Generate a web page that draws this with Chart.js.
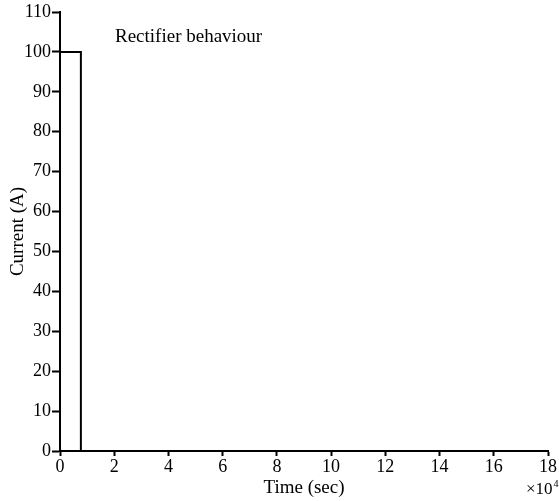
<!DOCTYPE html>
<html>
<head>
<meta charset="utf-8">
<script src="https://cdn.jsdelivr.net/npm/chart.js@4.4.1/dist/chart.umd.min.js"></script>
<style>
  html, body { margin: 0; padding: 0; background: #fff; }
  #wrap { width: 559px; height: 501px; position: relative; }
</style>
</head>
<body>
<div id="wrap"><canvas id="myChart"></canvas></div>
<script>
// time in units of 1e4 sec, current in A
const times = [0, 0.77, 0.77, 16.9]
const currents = [100, 100, 0, 0]
const xTicks = [0, 2, 4, 6, 8, 10, 12, 14, 16, 18]
const yTicks = [0, 10, 20, 30, 40, 50, 60, 70, 80, 90, 100, 110]

const serif = 'Liberation Serif'

const points = times.map((t, i) => ({ x: t, y: currents[i] }))

// plot label and the x10^4 exponent
const extraText = {
  id: 'extraText',
  afterDraw(chart) {
    const c = chart.ctx
    c.save()
    c.fillStyle = '#000'
    c.textBaseline = 'alphabetic'
    c.font = '19px "' + serif + '"'
    c.fillText('Rectifier behaviour', 115, 42)
    c.font = '17px "' + serif + '"'
    c.fillText('\u00d710', 526, 494)
    const w = c.measureText('\u00d710').width
    c.font = '10px "' + serif + '"'
    c.fillText('4', 526 + w + 1, 487)
    c.restore()
  }
}

const ctx = document.getElementById('myChart')

new Chart(ctx, {
  type: 'line',
  data: {
    datasets: [{
      data: points,
      borderColor: '#000',
      borderWidth: 2,
      pointRadius: 0,
      tension: 0,
      fill: false
    }]
  },
  options: {
    responsive: true,
    maintainAspectRatio: false,
    animation: false,
    layout: { padding: { left: 0, top: 12, right: 11, bottom: 0 } },
    plugins: { legend: { display: false }, tooltip: { enabled: false } },
    scales: {
      x: {
        type: 'linear',
        min: 0,
        max: 18,
        afterBuildTicks: axis => { axis.ticks = xTicks.map(v => ({ value: v })) },
        afterFit: axis => { axis.height = 50 },
        ticks: {
          color: '#000',
          font: { family: serif, size: 18 },
          padding: 0,
          maxRotation: 0
        },
        grid: {
          drawOnChartArea: false,
          drawTicks: true,
          tickLength: 5,
          tickWidth: 2,
          color: '#000'
        },
        border: { color: '#000', width: 2 },
        title: {
          display: true,
          text: 'Time (sec)',
          color: '#000',
          font: { family: serif, size: 19 },
          padding: { top: 0, bottom: 2 }
        }
      },
      y: {
        type: 'linear',
        min: 0,
        max: 110,
        afterBuildTicks: axis => { axis.ticks = yTicks.map(v => ({ value: v })) },
        afterFit: axis => { axis.width = 60 },
        ticks: {
          color: '#000',
          font: { family: serif, size: 18 },
          padding: 1
        },
        grid: {
          drawOnChartArea: false,
          drawTicks: true,
          tickLength: 8,
          tickWidth: 2,
          color: '#000'
        },
        border: { color: '#000', width: 2 },
        title: {
          display: true,
          text: 'Current (A)',
          color: '#000',
          font: { family: serif, size: 19 },
          padding: { top: 7, bottom: 0 }
        }
      }
    }
  },
  plugins: [extraText]
})
</script>
</body>
</html>
